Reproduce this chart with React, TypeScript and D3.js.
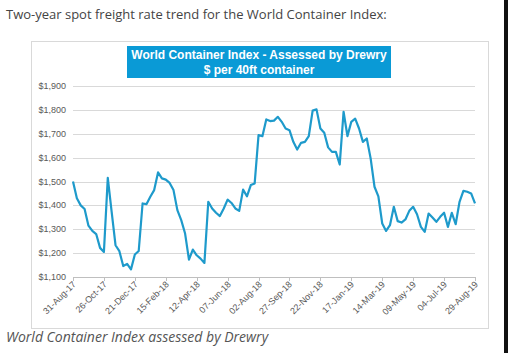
import * as d3 from 'd3';
import React from 'react';

// weekly Drewry WCI readings, 31-Aug-17 .. 29-Aug-19
const weekStart = new Date(2017, 7, 31);
const rates = [
  1500, 1430, 1400, 1385, 1315, 1293, 1280, 1222, 1205, 1515,
  1373, 1233, 1208, 1146, 1155, 1132, 1194, 1209, 1408, 1405,
  1436, 1464, 1538, 1513, 1508, 1494, 1464, 1380, 1338, 1282,
  1173, 1215, 1191, 1177, 1159, 1415, 1387, 1369, 1355, 1387,
  1424, 1410, 1387, 1377, 1466, 1438, 1485, 1492, 1694, 1690,
  1760, 1753, 1755, 1771, 1750, 1722, 1715, 1666, 1634, 1662,
  1666, 1690, 1797, 1802, 1722, 1704, 1643, 1624, 1624, 1571,
  1792, 1690, 1750, 1763, 1722, 1666, 1680, 1597, 1478, 1438,
  1324, 1293, 1317, 1394, 1334, 1328, 1341, 1377, 1394, 1363,
  1310, 1289, 1366, 1349, 1331, 1352, 1369, 1310, 1369, 1321,
  1415, 1461, 1457, 1450, 1408,
];
const yTicks = [1100, 1200, 1300, 1400, 1500, 1600, 1700, 1800, 1900];
const xTickLabels = [
  '31-Aug-17', '26-Oct-17', '21-Dec-17', '15-Feb-18', '12-Apr-18',
  '07-Jun-18', '02-Aug-18', '27-Sep-18', '22-Nov-18', '17-Jan-19',
  '14-Mar-19', '09-May-19', '04-Jul-19', '29-Aug-19',
];

const width = 508;
const height = 353;
const plot = { left: 73, right: 475, top: 86, bottom: 277 };

const App = () => {
  const dates = rates.map((_, i) => d3.timeDay.offset(weekStart, i * 7));
  const parse = d3.timeParse('%d-%b-%y');
  const tickDates = xTickLabels.map((t) => parse(t) as Date);

  const x = d3.scaleTime()
    .domain([dates[0], dates[dates.length - 1]])
    .range([plot.left, plot.right]);
  const y = d3.scaleLinear()
    .domain([1100, 1900])
    .range([plot.bottom, plot.top]);

  const line = d3.line<number>()
    .x((_, i) => x(dates[i]))
    .y((d) => y(d));

  const fmt = d3.format('$,');

  return (
    <svg width={width} height={height}
      style={{ position: 'absolute', left: 0, top: 0, background: '#fff' }}>
      <text x={6} y={19} fontFamily="'Open Sans', sans-serif" fontSize={13} fill="#444">
        Two-year spot freight rate trend for the World Container Index:
      </text>

      {/* chart frame */}
      <rect x={31.5} y={41.5} width={457} height={287} fill="#fff" stroke="#d9d9d9" />

      {/* title box */}
      <rect x={127} y={46} width={264} height={32} fill="#0a9ad6" />
      <text x={259} y={59} textAnchor="middle" fontFamily="Arial, 'Liberation Sans', sans-serif"
        fontSize={12} fontWeight="bold" fill="#fff">
        World Container Index - Assessed by Drewry
      </text>
      <text x={259} y={74} textAnchor="middle" fontFamily="Arial, 'Liberation Sans', sans-serif"
        fontSize={12} fontWeight="bold" fill="#fff">
        $ per 40ft container
      </text>

      {/* gridlines + y labels */}
      {yTicks.map((t) => (
        <g key={t}>
          {t > 1100 && (
            <line x1={plot.left} x2={plot.right} y1={Math.round(y(t)) + 0.5} y2={Math.round(y(t)) + 0.5}
              stroke="#d9d9d9" />
          )}
          <text x={66} y={y(t) + 3} textAnchor="end" fontFamily="Arial, 'Liberation Sans', sans-serif"
            fontSize={9} fill="#595959">
            {fmt(t)}
          </text>
        </g>
      ))}

      {/* x axis */}
      <line x1={plot.left} x2={plot.right} y1={Math.round(plot.bottom) + 0.5} y2={Math.round(plot.bottom) + 0.5}
        stroke="#bfbfbf" />
      {tickDates.map((d, i) => {
        const tx = Math.round(x(d)) + 0.5;
        return (
          <g key={xTickLabels[i]}>
            <line x1={tx} x2={tx} y1={plot.bottom} y2={plot.bottom + 4} stroke="#bfbfbf" />
            <text transform={`translate(${tx + 3},${plot.bottom + 8}) rotate(-45)`} textAnchor="end"
              fontFamily="Arial, 'Liberation Sans', sans-serif" fontSize={9} fill="#595959">
              {xTickLabels[i]}
            </text>
          </g>
        );
      })}

      <path d={line(rates) ?? ''} fill="none" stroke="#1e9acb" strokeWidth={2.2}
        strokeLinejoin="round" />

      <text x={6} y={342} fontFamily="'Open Sans', sans-serif" fontSize={14} fontStyle="italic" fill="#555">
        World Container Index assessed by Drewry
      </text>

      <rect x={504} y={0} width={4} height={height} fill="#111" />
    </svg>
  );
};

export default App;
